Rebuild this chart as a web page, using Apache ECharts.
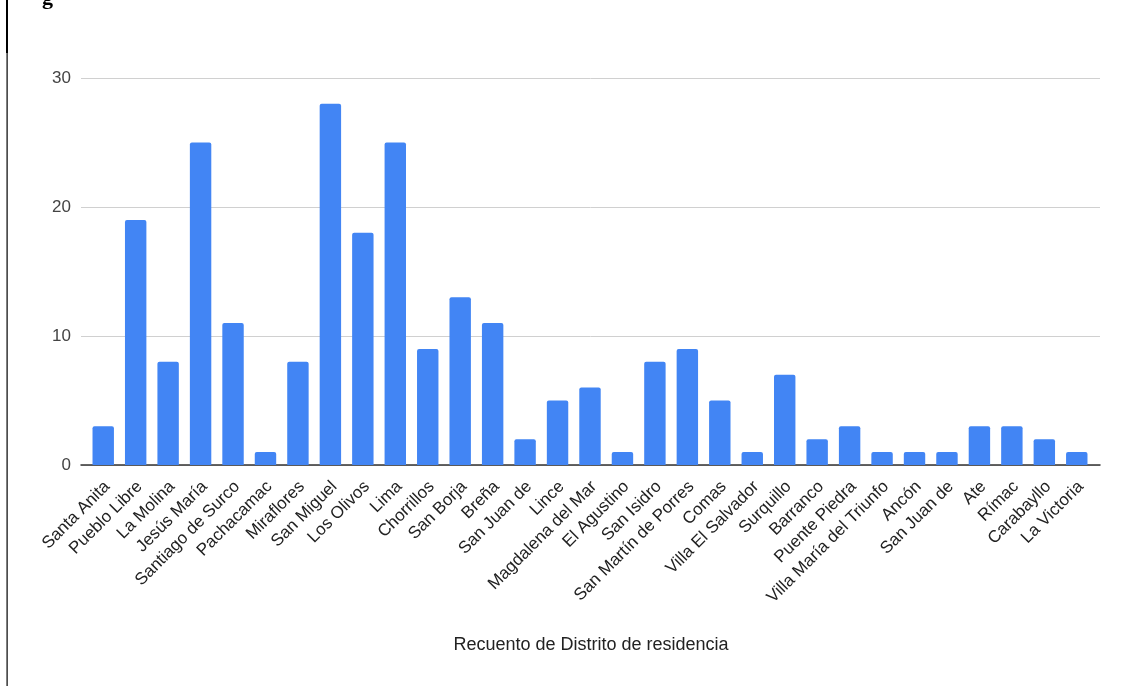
<!DOCTYPE html>
<html>
<head>
<meta charset="utf-8">
<script src="https://cdn.jsdelivr.net/npm/echarts@6/dist/echarts.min.js"></script>
<style>
html,body{margin:0;padding:0;background:#fff;}
#chart{width:1131px;height:686px;}
</style>
</head>
<body>
<div id="chart"></div>
<script>
const districts = ["Santa Anita","Pueblo Libre","La Molina","Jesús María","Santiago de Surco","Pachacamac","Miraflores","San Miguel","Los Olivos","Lima","Chorrillos","San Borja","Breña","San Juan de","Lince","Magdalena del Mar","El Agustino","San Isidro","San Martín de Porres","Comas","Villa El Salvador","Surquillo","Barranco","Puente Piedra","Villa María del Triunfo","Ancón","San Juan de","Ate","Rímac","Carabayllo","La Victoria"];
const counts = [3,19,8,25,11,1,8,28,18,25,9,13,11,2,5,6,1,8,9,5,1,7,2,3,1,1,1,3,3,2,1];
const yTicks = [0,10,20,30];
const axisTitle = "Recuento de Distrito de residencia";

const chart = echarts.init(document.getElementById('chart'), null, {renderer:'canvas'});
const FONT = '"Liberation Sans", Arial, sans-serif';
chart.setOption({
  animation:false,
  backgroundColor:'#fff',
  grid:[
    {left:81, right:31, top:78, bottom:221},
    {left:87, right:38, top:78, bottom:221},
    {left:91, right:34, top:78, bottom:221}
  ],
  xAxis:[
    {gridIndex:0, type:'value', min:0, max:1, axisLine:{show:true, onZero:false, lineStyle:{color:'#333', width:1.5}}, axisTick:{show:false}, axisLabel:{show:false}, splitLine:{show:false}},
    {gridIndex:1, type:'category', data:districts, axisLine:{show:false}, axisTick:{show:false}, axisLabel:{show:false}},
    {gridIndex:2, type:'category', data:districts, axisLine:{show:false}, axisTick:{show:false},
      axisLabel:{show:true, interval:0, rotate:45, margin:19, fontFamily:FONT, fontSize:17, color:'#222'}}
  ],
  yAxis:[
    {gridIndex:0, type:'value', min:yTicks[0], max:yTicks[yTicks.length-1], interval:10,
      axisLine:{show:false}, axisTick:{show:false},
      axisLabel:{fontFamily:FONT, fontSize:17, color:'#444', margin:10},
      splitLine:{lineStyle:{color:'#d0d0d0', width:1}}},
    {gridIndex:1, type:'value', min:0, max:30, show:false},
    {gridIndex:2, type:'value', min:0, max:30, show:false}
  ],
  series:[
    {type:'bar', xAxisIndex:1, yAxisIndex:1, data:counts, barCategoryGap:'34%',
      itemStyle:{color:'#4285F4', borderRadius:[2,2,0,0]}}
  ],
  graphic:[
    {type:'text', x:591, y:636, style:{text:axisTitle, align:'center', font:'18px "Liberation Sans", Arial, sans-serif', fill:'#222'}},
    {type:'rect', shape:{x:6, y:0, width:2, height:53}, style:{fill:'#000'}},
    {type:'rect', shape:{x:6.5, y:53, width:1.2, height:633}, style:{fill:'#000'}},
    {type:'text', x:42, y:-13, style:{text:'g', font:'bold 22px "Liberation Serif", serif', fill:'#000'}}
  ]
});
</script>
</body>
</html>
